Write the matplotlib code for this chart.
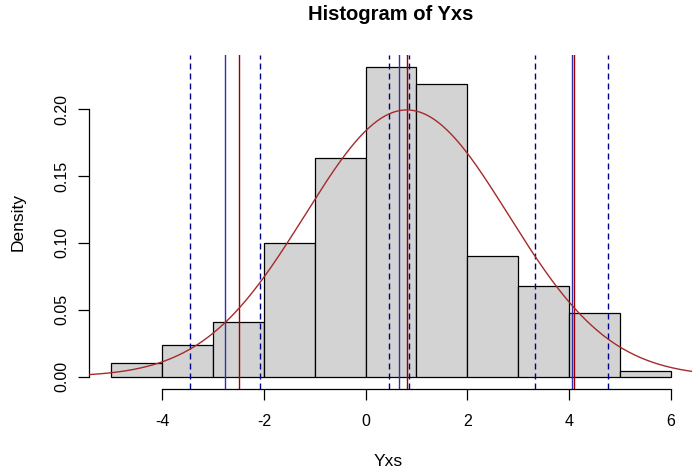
import matplotlib
matplotlib.use("Agg")

import matplotlib.pyplot as plt
import numpy as np

plt.rcParams['font.family'] = ['Liberation Sans', 'DejaVu Sans']

# histogram (density scale), bins of width 1 from -5 to 6
BIN_EDGES = [-5, -4, -3, -2, -1, 0, 1, 2, 3, 4, 5, 6]
DENSITY = [0.0105, 0.0233, 0.0407, 0.0998, 0.1632, 0.2313, 0.2185,
           0.0904, 0.0675, 0.0477, 0.0045]

# fitted normal curve
NORM_MEAN = 0.81
NORM_SD = 2.0

# vertical reference lines
RED_LINES = [-2.49, 0.81, 4.09]
BLUE_LINES = [-2.77, 0.66, 4.06]
DASHED_LINES = [-3.46, -2.08, 0.46, 0.85, 3.33, 4.77]

X_TICKS = [-4, -2, 0, 2, 4, 6]
Y_TICKS = [0.00, 0.05, 0.10, 0.15, 0.20]

W, H = 692, 471


def r_range(lo, hi):
    # R style 4% axis extension
    d = (hi - lo) * 0.04
    return lo - d, hi + d


fig = plt.figure(figsize=(W / 100, H / 100), dpi=100)
ax = fig.add_axes([89 / W, (H - 389) / H, (693 - 89) / W, (389 - 55) / H])

xlo, xhi = r_range(BIN_EDGES[0], BIN_EDGES[-1])
ylo, yhi = r_range(0, max(DENSITY))
ax.set_xlim(xlo, xhi)
ax.set_ylim(ylo, yhi)

lefts = np.array(BIN_EDGES[:-1])
widths = np.diff(BIN_EDGES)
ax.bar(lefts, DENSITY, width=widths, align='edge', color='#D3D3D3',
       edgecolor='black', linewidth=0.9, zorder=1)

xs = np.linspace(xlo, xhi, 400)
pdf = np.exp(-0.5 * ((xs - NORM_MEAN) / NORM_SD) ** 2) / (NORM_SD * np.sqrt(2 * np.pi))
ax.plot(xs, pdf, color='#A52A2A', linewidth=1.0, zorder=3)

for v in DASHED_LINES:
    ax.axvline(v, color='#00008B', linewidth=1.0, dashes=(4.3, 2.9), zorder=2)
for v in BLUE_LINES:
    ax.axvline(v, color='#3030B0', linewidth=1.0, zorder=2)
for v in RED_LINES:
    ax.axvline(v, color='#990000', linewidth=1.0, zorder=2)

for s in ['top', 'right']:
    ax.spines[s].set_visible(False)
ax.spines['left'].set_bounds(Y_TICKS[0], Y_TICKS[-1])
ax.spines['bottom'].set_bounds(X_TICKS[0], X_TICKS[-1])
for s in ['left', 'bottom']:
    ax.spines[s].set_linewidth(0.9)

ax.set_xticks(X_TICKS)
ax.set_xticklabels([str(t) for t in X_TICKS])
ax.set_yticks(Y_TICKS)
ax.set_yticklabels(['%.2f' % t for t in Y_TICKS], rotation=90, va='center')
ax.tick_params(axis='both', direction='out', length=8, width=0.9,
               labelsize=11.5, colors='black')
ax.tick_params(axis='x', pad=10)
ax.tick_params(axis='y', pad=6)
ax.patch.set_visible(False)

fig.text(391 / W, 1 - 15 / H, 'Histogram of Yxs', ha='center', va='center',
         fontsize=14.5, fontweight='bold')
fig.text(388 / W, 1 - 462 / H, 'Yxs', ha='center', va='center', fontsize=12.5)
fig.text(18 / W, 1 - 222 / H, 'Density', ha='center', va='center',
         rotation=90, fontsize=12.5)

fig.savefig('out.png', dpi=100)
